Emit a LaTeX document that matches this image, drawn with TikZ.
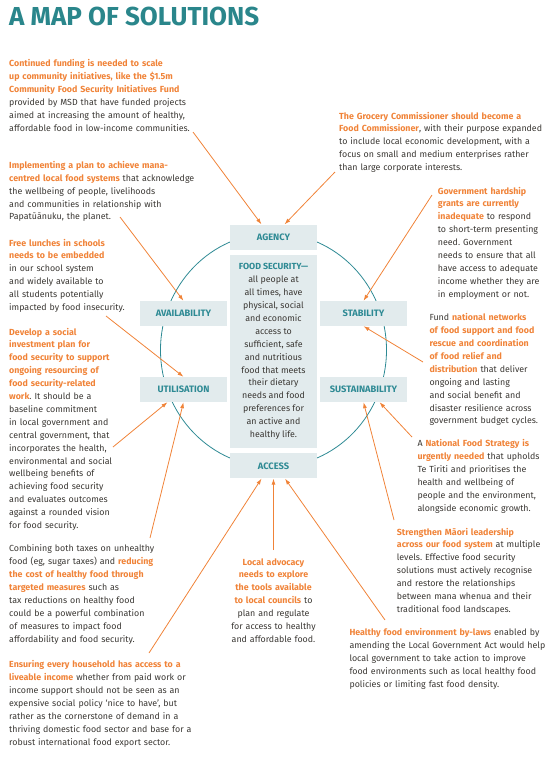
\documentclass[tikz,border=0pt]{standalone}
\usepackage{fontspec}
\setmainfont{Fira Sans}
\usepackage{xcolor}
\usetikzlibrary{arrows.meta, positioning}
\frenchspacing

\definecolor{solteal}{HTML}{2A868B}
\definecolor{pillarteal}{HTML}{2E8A94}
\definecolor{pillarfill}{HTML}{E2EBED}
\definecolor{solorange}{HTML}{F08338}
\definecolor{solink}{HTML}{3A3733}
\newcommand{\orng}[1]{{\color{solorange}\bfseries #1}}

\begin{document}
\begin{tikzpicture}[
  x=1pt, y=-1pt,
  blurb/.style={anchor=base west, text width=260pt, align=left, inner sep=0pt, text=solink, font=\fontsize{8.85}{12.9}\selectfont},
  midblurb/.style={anchor=base, text width=130pt, align=center, inner sep=0pt, text=solink, font=\fontsize{8.85}{12.9}\selectfont},
  pillar/.style={rectangle, minimum width=87pt, minimum height=25pt, inner sep=0pt, fill=pillarfill, text=pillarteal, font=\fontsize{9.3}{11}\selectfont\bfseries},
  corebox/.style={rectangle, minimum width=87pt, minimum height=193pt, inner sep=0pt, fill=pillarfill, align=center, text=solink, font=\fontsize{8.85}{12.9}\selectfont},
  ring/.style={draw=pillarteal, line width=0.8pt},
  arrow/.style={draw=solorange, line width=0.8pt, -{Latex[length=6pt,width=4pt]}}
]
\useasboundingbox (0,0) rectangle (553,758);

\node (title) [anchor=base west, inner sep=0pt, text=solteal, font=\fontsize{26}{30}\selectfont\bfseries] at (9,25) {A MAP OF SOLUTIONS};

% the wheel
\coordinate (hub) at (273.5,350);
\draw [ring] (hub) ellipse [x radius=113, y radius=117];

\node (core) [corebox] at (273.5,351.5) {{\color{pillarteal}\bfseries FOOD SECURITY—}\\all people at\\all times, have\\physical, social\\and economic\\access to\\sufficient, safe\\and nutritious\\food that meets\\their dietary\\needs and food\\preferences for\\an active and\\healthy life.};
\node (agency) [pillar, above=5pt of core] {AGENCY};
\node (access) [pillar, below=5pt of core] {ACCESS};
\node (availability) [pillar] at (183.5,313.5) {AVAILABILITY};
\node (utilisation) [pillar] at (183.5,389.5) {UTILISATION};
\node (stability) [pillar] at (363.5,313.5) {STABILITY};
\node (sustainability) [pillar] at (363.5,389.5) {SUSTAINABILITY};

% left column
\node (fund) [blurb] at (9,66.7) {\orng{Continued funding is needed to scale}\\\orng{up community initiatives, like the \$1.5m}\\\orng{Community Food Security Initiatives Fund}\\provided by MSD that have funded projects\\aimed at increasing the amount of healthy,\\affordable food in low-income communities.};
\node (mana) [blurb] at (9,168.3) {\orng{Implementing a plan to achieve mana-}\\\orng{centred local food systems} that acknowledge\\the wellbeing of people, livelihoods\\and communities in relationship with\\Papatūānuku, the planet.};
\node (lunch) [blurb] at (9,246) {\orng{Free lunches in schools}\\\orng{needs to be embedded}\\in our school system\\and widely available to\\all students potentially\\impacted by food insecurity.};
\node (invest) [blurb] at (9,335) {\orng{Develop a social}\\\orng{investment plan for}\\\orng{food security to support}\\\orng{ongoing resourcing of}\\\orng{food security-related}\\\orng{work}. It should be a\\baseline commitment\\in local government and\\central government, that\\incorporates the health,\\environmental and social\\wellbeing benefits of\\achieving food security\\and evaluates outcomes\\against a rounded vision\\for food security.};
\node (tax) [blurb] at (9,551.7) {Combining both taxes on unhealthy\\food (eg, sugar taxes) and \orng{reducing}\\\orng{the cost of healthy food through}\\\orng{targeted measures} such as\\tax reductions on healthy food\\could be a powerful combination\\of measures to impact food\\affordability and food security.};
\node (income) [blurb] at (9,667.7) {\orng{Ensuring every household has access to a}\\\orng{liveable income} whether from paid work or\\income support should not be seen as an\\expensive social policy ‘nice to have’, but\\rather as the cornerstone of demand in a\\thriving domestic food sector and base for a\\robust international food export sector.};

% middle
\node (advocacy) [midblurb] at (273.5,565) {\orng{Local advocacy}\\\orng{needs to explore}\\\orng{the tools available}\\\orng{to local councils} to\\plan and regulate\\for access to healthy\\and affordable food.};

% right column
\node (grocer) [blurb] at (339,119) {\orng{The Grocery Commissioner should become a}\\\orng{Food Commissioner}, with their purpose expanded\\to include local economic development, with a\\focus on small and medium enterprises rather\\than large corporate interests.};
\node (hardship) [blurb] at (437.7,194) {\orng{Government hardship}\\\orng{grants are currently}\\\orng{inadequate} to respond\\to short-term presenting\\need. Government\\needs to ensure that all\\have access to adequate\\income whether they are\\in employment or not.};
\node (network) [blurb] at (429.3,320.7) {Fund \orng{national networks}\\\orng{of food support and food}\\\orng{rescue and coordination}\\\orng{of food relief and}\\\orng{distribution} that deliver\\ongoing and lasting\\and social benefit and\\disaster resilience across\\government budget cycles.};
\node (strategy) [blurb] at (417.3,446.7) {A \orng{National Food Strategy is}\\\orng{urgently needed} that upholds\\Te Tiriti and prioritises the\\health and wellbeing of\\people and the environment,\\alongside economic growth.};
\node (maori) [blurb] at (396.7,535) {\orng{Strengthen Māori leadership}\\\orng{across our food system} at multiple\\levels. Effective food security\\solutions must actively recognise\\and restore the relationships\\between mana whenua and their\\traditional food landscapes.};
\node (bylaw) [blurb] at (349.3,635.7) {\orng{Healthy food environment by-laws} enabled by\\amending the Local Government Act would help\\local government to take action to improve\\food environments such as local healthy food\\policies or limiting fast food density.};

% arrow tails
\coordinate (fundtail) at (193,132);
\coordinate (grocertail) at (335,172);
\coordinate (manatail) at (120,217);
\coordinate (lunchtail) at (106,316);
\coordinate (investtail) at (113,447);
\coordinate (taxtail) at (150,538);
\coordinate (incometail) at (149,653);
\coordinate (advocacytail) at (273.5,550);
\coordinate (bylawtail) at (385,620);
\coordinate (maoritail) at (394,520);
\coordinate (strategytail) at (412,437);
\coordinate (networktail) at (423,362);
\coordinate (hardshiptail) at (432,195);

\draw [arrow] (fundtail) -- ([xshift=-12pt]agency.north);
\draw [arrow] (grocertail) -- ([xshift=11pt]agency.north);
\draw [arrow] (manatail) -- (availability.north);
\draw [arrow] (lunchtail) -- (utilisation.north);
\draw [arrow] (investtail) -- ([xshift=-16pt]utilisation.south);
\draw [arrow] (taxtail) -- (utilisation.south);
\draw [arrow] (incometail) -- ([xshift=-12pt]access.south);
\draw [arrow] (advocacytail) -- (access.south);
\draw [arrow] (bylawtail) -- ([xshift=11.5pt]access.south);
\draw [arrow] (maoritail) -- (sustainability.south);
\draw [arrow] (strategytail) -- ([xshift=16pt]sustainability.south);
\draw [arrow] (networktail) -- (stability.south);
\draw [arrow] (hardshiptail) -- (stability.north);
\end{tikzpicture}
\end{document}
